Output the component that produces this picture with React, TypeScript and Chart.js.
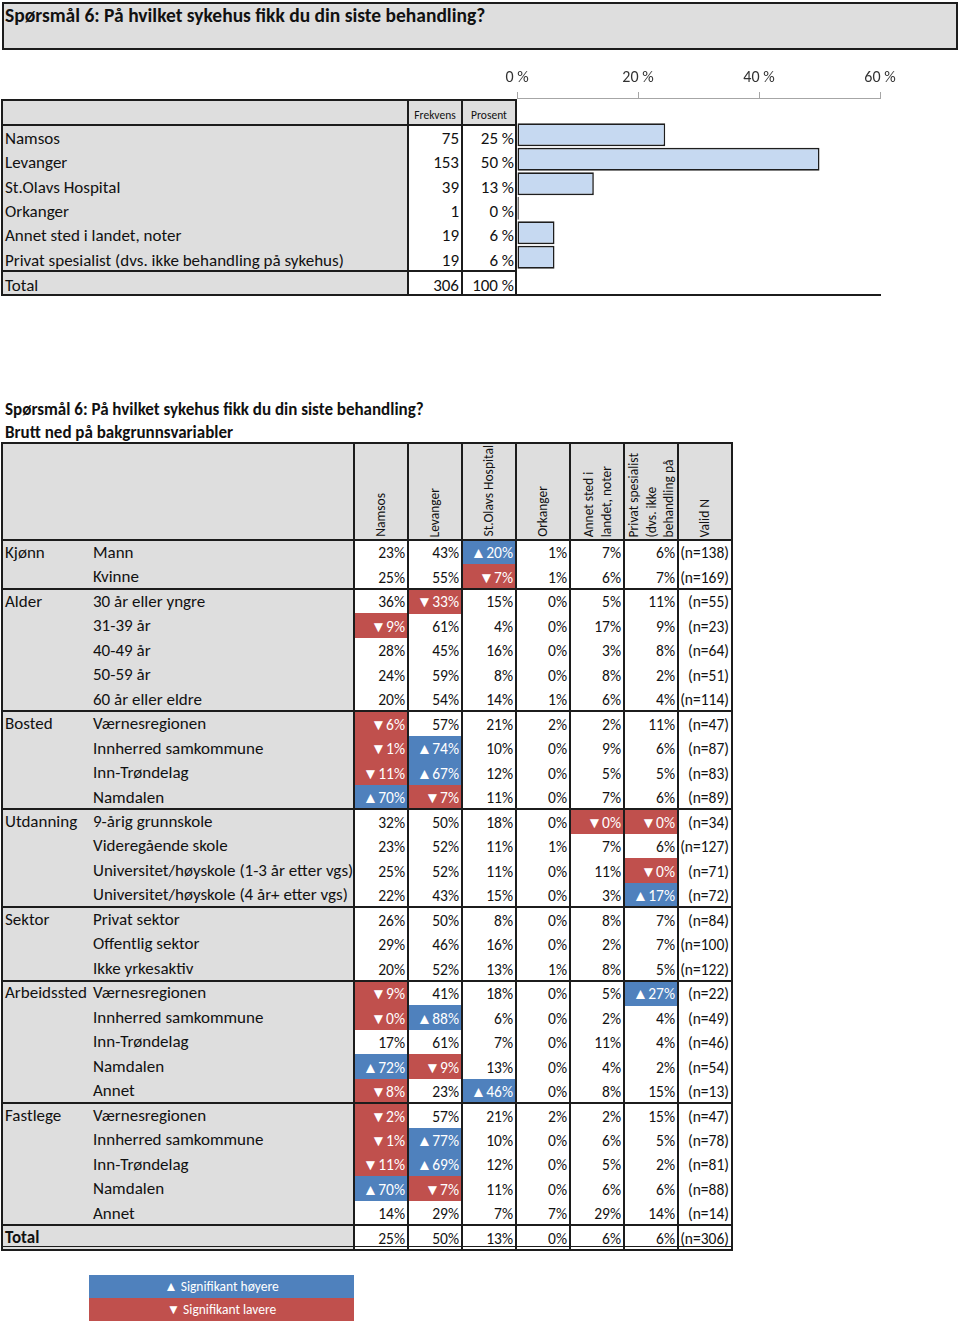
import React, { useEffect, useRef } from 'react';
import { Chart, registerables } from 'chart.js';
Chart.register(...registerables);

const FONT = 'Carlito, Lato, "Noto Sans", sans-serif';
const GRAY = '#dedede';
const LINE = '#1c1c1c';
const BLUE = '#4f81bd';
const RED = '#c0504d';
const TEXT = '#111';

const title = 'Spørsmål 6: På hvilket sykehus fikk du din siste behandling?';
const subTitle = 'Brutt ned på bakgrunnsvariabler';

// Frequency table + bar chart
const hospitals = ['Namsos', 'Levanger', 'St.Olavs Hospital', 'Orkanger', 'Annet sted i landet, noter', 'Privat spesialist (dvs. ikke behandling på sykehus)'];
const frequencies = [75, 153, 39, 1, 19, 19];
const percentLabels = ['25 %', '50 %', '13 %', '0 %', '6 %', '6 %'];
const barPercent = [24.5, 50, 12.7, 0.3, 6.2, 6.2];
const totalFrequency = 306;
const totalPercentLabel = '100 %';
const axisMax = 60;
const axisStep = 20;

// Breakdown table
const columnHeaders = [['Namsos'], ['Levanger'], ['St.Olavs Hospital'], ['Orkanger'], ['Annet sted i', 'landet, noter'], ['Privat spesialist', '(dvs. ikke', 'behandling på'], ['Valid N']];
const groupNames = ['Kjønn', 'Alder', 'Bosted', 'Utdanning', 'Sektor', 'Arbeidssted', 'Fastlege', 'Total'];
const groupSizes = [2, 5, 4, 4, 3, 5, 5, 1];
const rowLabels = [
  'Mann', 'Kvinne',
  '30 år eller yngre', '31-39 år', '40-49 år', '50-59 år', '60 år eller eldre',
  'Værnesregionen', 'Innherred samkommune', 'Inn-Trøndelag', 'Namdalen',
  '9-årig grunnskole', 'Videregående skole', 'Universitet/høyskole (1-3 år etter vgs)', 'Universitet/høyskole (4 år+ etter vgs)',
  'Privat sektor', 'Offentlig sektor', 'Ikke yrkesaktiv',
  'Værnesregionen', 'Innherred samkommune', 'Inn-Trøndelag', 'Namdalen', 'Annet',
  'Værnesregionen', 'Innherred samkommune', 'Inn-Trøndelag', 'Namdalen', 'Annet',
  '',
];
const namsosPct = [23, 25, 36, 9, 28, 24, 20, 6, 1, 11, 70, 32, 23, 25, 22, 26, 29, 20, 9, 0, 17, 72, 8, 2, 1, 11, 70, 14, 25];
const levangerPct = [43, 55, 33, 61, 45, 59, 54, 57, 74, 67, 7, 50, 52, 52, 43, 50, 46, 52, 41, 88, 61, 9, 23, 57, 77, 69, 7, 29, 50];
const stOlavsPct = [20, 7, 15, 4, 16, 8, 14, 21, 10, 12, 11, 18, 11, 11, 15, 8, 16, 13, 18, 6, 7, 13, 46, 21, 10, 12, 11, 7, 13];
const orkangerPct = [1, 1, 0, 0, 0, 0, 1, 2, 0, 0, 0, 0, 1, 0, 0, 0, 0, 1, 0, 0, 0, 0, 0, 2, 0, 0, 0, 7, 0];
const annetPct = [7, 6, 5, 17, 3, 8, 6, 2, 9, 5, 7, 0, 7, 11, 3, 8, 2, 8, 5, 2, 11, 4, 8, 2, 6, 5, 6, 29, 6];
const privatPct = [6, 7, 11, 9, 8, 2, 4, 11, 6, 5, 6, 0, 6, 0, 17, 7, 7, 5, 27, 4, 4, 2, 15, 15, 5, 2, 6, 14, 6];
const validN = [138, 169, 55, 23, 64, 51, 114, 47, 87, 83, 89, 34, 127, 71, 72, 84, 100, 122, 22, 49, 46, 54, 13, 47, 78, 81, 88, 14, 306];
// significance: '+' higher, '-' lower, '.' none
const namsosSig = '...-...---+.......--.+----+..';
const levangerSig = '..-.....++-........+.-..++-..';
const stOlavsSig = '+-....................+......';
const orkangerSig = '.............................';
const annetSig = '...........-.................';
const privatSig = '...........-.-+...+..........';
const legendHigher = '▲ Signifikant høyere';
const legendLower = '▼ Signifikant lavere';

const pctColumns = [namsosPct, levangerPct, stOlavsPct, orkangerPct, annetPct, privatPct];
const sigColumns = [namsosSig, levangerSig, stOlavsSig, orkangerSig, annetSig, privatSig];

const LABEL_SIZE = 17;
const NUM_SIZE = 15.5;

const abs = (x: number, y: number, w: number, h: number, extra: any = {}) => ({
  position: 'absolute' as const, left: x, top: y, width: w, height: h, ...extra,
});

function Line({ x, y, w, h, c = LINE }: any) {
  return <div style={abs(x, y, w, h, { background: c })} />;
}

function Txt({ x, y, w, h, align = 'left', size = 14.5, bold = false, color = TEXT, children, dy = 0 }: any) {
  return (
    <div
      style={abs(x, y + dy, w, h, {
        display: 'flex',
        alignItems: 'center',
        justifyContent: align === 'right' ? 'flex-end' : align === 'center' ? 'center' : 'flex-start',
        fontSize: size,
        fontWeight: bold ? 700 : 400,
        color,
        whiteSpace: 'nowrap',
        lineHeight: 1,
      })}
    >
      {children}
    </div>
  );
}

function BarChart() {
  const ref = useRef<HTMLCanvasElement>(null);
  useEffect(() => {
    if (!ref.current) return;
    const labels = ['', ...hospitals, 'Total'];
    const data = [null, ...barPercent, null];
    const chart = new Chart(ref.current, {
      type: 'bar',
      data: {
        labels,
        datasets: [{
          data,
          backgroundColor: '#c6d9f1',
          borderColor: '#1e1e1e',
          borderWidth: 1.6,
          borderSkipped: false,
          barPercentage: 0.93,
          categoryPercentage: 1,
        }],
      },
      options: {
        indexAxis: 'y',
        animation: false,
        responsive: false,
        layout: { padding: { left: 17, right: 20, top: 0, bottom: 6 } },
        plugins: { legend: { display: false }, tooltip: { enabled: false } },
        scales: {
          x: {
            type: 'linear',
            position: 'top',
            min: 0,
            max: axisMax,
            ticks: {
              stepSize: axisStep,
              callback: (v: any) => v + ' %',
              color: '#333',
              font: { family: FONT, size: 16 },
              padding: 4,
            },
            grid: { drawOnChartArea: false, drawTicks: true, tickLength: 6, color: '#a6a6a6' },
            border: { display: true, color: '#a6a6a6', width: 1 },
            afterFit: (s: any) => { s.height = 38; },
          },
          y: { type: 'category', display: false },
        },
      },
    } as any);
    return () => chart.destroy();
  }, []);
  return <canvas ref={ref} width={400} height={240} style={abs(500, 60, 400, 240)} />;
}

export default function App() {
  // frequency table geometry
  const fTop = 100, fHead = 125, fBodyRow = 24.33, fTotalTop = 271, fBottom = 295;
  const fCols = [2, 408, 462, 516];

  // breakdown geometry
  const bTop = 443, bHeadBottom = 540, rowH = 24.48;
  const colX = [354, 408, 462, 516, 570, 624, 678, 732];
  const nRows = rowLabels.length;
  const bBottom = bHeadBottom + nRows * rowH;

  const groupStarts: number[] = [];
  groupSizes.reduce((acc, s) => { groupStarts.push(acc); return acc + s; }, 0);

  return (
    <div style={abs(0, 0, 960, 1326, { background: '#fff', overflow: 'hidden', fontFamily: FONT, color: TEXT })}>
      {/* Title box */}
      <div style={abs(2, 2, 956, 48, { background: GRAY, border: `2px solid ${LINE}`, boxSizing: 'border-box' })} />
      <Txt x={5} y={5} w={900} h={22} size={19.5} bold>{title}</Txt>

      {/* Frequency table */}
      <div style={abs(2, fTop, 406, fBottom - fTop, { background: GRAY })} />
      <div style={abs(408, fTop, 108, fHead - fTop, { background: GRAY })} />
      <Txt x={408} y={fTop + 5} w={54} h={21} align="center" size={11.5}>Frekvens</Txt>
      <Txt x={462} y={fTop + 5} w={54} h={21} align="center" size={11.5}>Prosent</Txt>
      {hospitals.map((h, i) => {
        const y = fHead + i * fBodyRow;
        return (
          <React.Fragment key={h}>
            <Txt x={5} y={y} w={400} h={fBodyRow} dy={1.5} size={LABEL_SIZE}>{h}</Txt>
            <Txt x={408} y={y} w={51} h={fBodyRow} dy={1.5} align="right" size={LABEL_SIZE}>{frequencies[i]}</Txt>
            <Txt x={462} y={y} w={52} h={fBodyRow} dy={1.5} align="right" size={LABEL_SIZE}>{percentLabels[i]}</Txt>
          </React.Fragment>
        );
      })}
      <Txt x={5} y={fTotalTop} w={400} h={fBottom - fTotalTop} dy={2} size={LABEL_SIZE}>Total</Txt>
      <Txt x={408} y={fTotalTop} w={51} h={fBottom - fTotalTop} dy={2} align="right" size={LABEL_SIZE}>{totalFrequency}</Txt>
      <Txt x={462} y={fTotalTop} w={52} h={fBottom - fTotalTop} dy={2} align="right" size={LABEL_SIZE}>{totalPercentLabel}</Txt>
      <Line x={1} y={fTop - 1} w={516} h={2} />
      <Line x={1} y={fHead - 1} w={516} h={2} />
      <Line x={1} y={fTotalTop - 1} w={516} h={2} />
      <Line x={1} y={fBottom - 1} w={880} h={2} />
      {fCols.map((x) => <Line key={x} x={x - 1} y={fTop - 1} w={2} h={fBottom - fTop + 2} />)}

      <BarChart />

      {/* Breakdown titles */}
      <Txt x={5} y={399} w={600} h={20} size={17} bold>{title}</Txt>
      <Txt x={5} y={422} w={600} h={20} size={17} bold>{subTitle}</Txt>

      {/* Breakdown table */}
      <div style={abs(2, bTop, colX[0] - 2, bBottom - bTop, { background: GRAY })} />
      <div style={abs(colX[0], bTop, colX[7] - colX[0], bHeadBottom - bTop, { background: GRAY })} />

      {/* significance cells */}
      {pctColumns.map((col, c) => col.map((v, r) => {
        const s = sigColumns[c][r];
        if (s === '.') return null;
        return <div key={`s${c}-${r}`} style={abs(colX[c] + 1, bHeadBottom + r * rowH, colX[c + 1] - colX[c] - 1, rowH + 0.5, { background: s === '+' ? BLUE : RED })} />;
      }))}

      {/* column headers */}
      {columnHeaders.map((lines, c) => (
        <div key={`h${c}`} style={abs(colX[c], bTop + 2, colX[c + 1] - colX[c], bHeadBottom - bTop - 5, { display: 'flex', justifyContent: 'center', alignItems: 'flex-end', overflow: 'hidden' })}>
          <div style={{ writingMode: 'vertical-rl', transform: 'rotate(180deg)', fontSize: 13.5, lineHeight: '17.5px', whiteSpace: 'nowrap' }}>
            {lines.map((l, i) => <React.Fragment key={i}>{i > 0 && <br />}{l}</React.Fragment>)}
          </div>
        </div>
      ))}

      {/* group labels */}
      {groupNames.map((g, gi) => (
        <Txt key={`g${gi}`} x={5} y={bHeadBottom + groupStarts[gi] * rowH} w={90} h={rowH} size={LABEL_SIZE} bold={g === 'Total'}>{g}</Txt>
      ))}

      {/* rows */}
      {rowLabels.map((lab, r) => {
        const y = bHeadBottom + r * rowH;
        return (
          <React.Fragment key={`r${r}`}>
            {lab && <Txt x={93} y={y} w={260} h={rowH} size={LABEL_SIZE}>{lab}</Txt>}
            {pctColumns.map((col, c) => {
              const s = sigColumns[c][r];
              const txt = s === '+' ? `▲${col[r]}%` : s === '-' ? `▼${col[r]}%` : `${col[r]}%`;
              return (
                <Txt key={c} x={colX[c]} y={y} w={colX[c + 1] - colX[c] - 3} h={rowH} align="right" size={NUM_SIZE} color={s === '.' ? TEXT : '#fff'} dy={1}>{txt}</Txt>
              );
            })}
            <Txt x={colX[6]} y={y} w={colX[7] - colX[6] - 3} h={rowH} align="right" size={NUM_SIZE} dy={1}>{`(n=${validN[r]})`}</Txt>
          </React.Fragment>
        );
      })}

      {/* horizontal lines */}
      <Line x={1} y={bTop - 1} w={colX[7] - 0} h={2} />
      <Line x={1} y={bHeadBottom - 1} w={colX[7] - 0} h={2} />
      {groupStarts.slice(1).map((gs) => (
        <Line key={`gl${gs}`} x={1} y={bHeadBottom + gs * rowH - 1} w={colX[7]} h={2} />
      ))}
      <Line x={1} y={bBottom - 4} w={colX[7]} h={1.5} />
      <Line x={1} y={bBottom - 1} w={colX[7]} h={2} />
      {/* vertical lines */}
      <Line x={1} y={bTop - 1} w={2} h={bBottom - bTop + 2} />
      {colX.map((x) => <Line key={`v${x}`} x={x - 1} y={bTop - 1} w={2} h={bBottom - bTop + 2} />)}

      {/* legend */}
      <div style={abs(89, 1275, 265, 23, { background: BLUE })} />
      <div style={abs(89, 1298, 265, 23, { background: RED })} />
      <Txt x={89} y={1275} w={265} h={23} align="center" size={13.5} color="#fff">{legendHigher}</Txt>
      <Txt x={89} y={1298} w={265} h={23} align="center" size={13.5} color="#fff">{legendLower}</Txt>
    </div>
  );
}
